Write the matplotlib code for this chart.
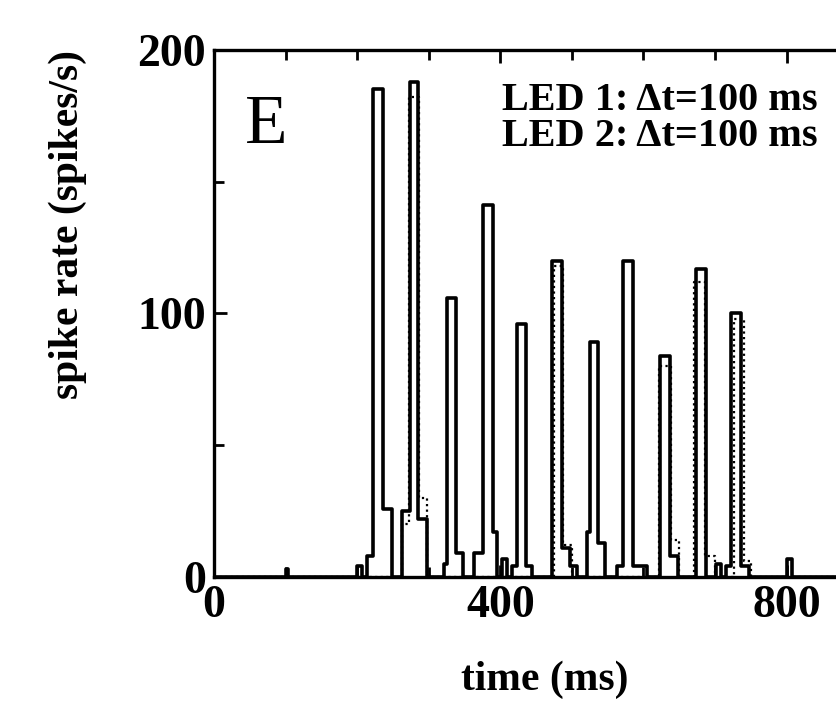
import matplotlib
matplotlib.use("Agg")
import matplotlib.pyplot as plt
from matplotlib.ticker import MultipleLocator

# PSTH, LED 1 (solid trace) - bin edges in ms and rate in spikes/s (steps-post)
led1_t = [0, 100, 104, 200, 207, 214, 222, 236, 249, 263, 274, 285, 297,
          321, 325, 338, 348, 363, 376, 390, 396, 403, 409, 416, 423, 436, 445,
          472, 486, 497, 507, 521, 525, 536, 547, 563, 571, 586, 605,
          623, 637, 648, 674, 688, 702, 709, 716, 723, 737, 748, 801, 807, 1000]
led1_r = [0, 3, 0, 4, 0, 8, 185, 26, 0, 25, 188, 22, 0,
          5, 106, 9, 0, 9, 141, 17, 0, 7, 0, 4, 96, 4, 0,
          120, 11, 4, 0, 17, 89, 13, 0, 4, 120, 4, 0,
          84, 8, 0, 117, 0, 5, 0, 4, 100, 4, 0, 7, 0, 0]

# LED 2 (dotted trace)
led2_t = [0, 262, 272, 286, 297, 470, 475, 488, 500, 620, 622, 639, 650,
          668, 671, 686, 700, 724, 727, 740, 750, 1000]
led2_r = [0, 20, 182, 30, 0, 0, 118, 12, 0, 0, 80, 14, 0,
          0, 112, 8, 0, 0, 98, 6, 0, 0]

xticks = [0, 400, 800]
yticks = [0, 100, 200]
legend_lines = ["LED 1: \u0394t=100 ms", "LED 2: \u0394t=100 ms"]

plt.rcParams['font.family'] = ['Liberation Serif', 'DejaVu Serif']
plt.rcParams['font.weight'] = 'bold'

fig = plt.figure(figsize=(8.37, 7.26), dpi=100)
ax = fig.add_axes([0.2557, 0.2052, 0.855, 0.726])

ax.plot(led1_t, led1_r, drawstyle='steps-post', color='black', lw=2.6)
ax.plot(led2_t, led2_r, drawstyle='steps-post', color='black', lw=1.6,
        linestyle=(0, (1, 1.5)))

ax.set_xlim(0, 1000)
ax.set_ylim(0, 200)
ax.set_xticks(xticks)
ax.set_yticks(yticks)
ax.xaxis.set_minor_locator(MultipleLocator(100))
ax.yaxis.set_minor_locator(MultipleLocator(50))
ax.tick_params(which='both', direction='in', top=True, right=False,
               width=2, labelsize=33)
ax.tick_params(which='major', length=9)
ax.tick_params(which='minor', length=7)
ax.tick_params(axis='x', pad=6)
ax.tick_params(axis='y', pad=6)
for s in ax.spines.values():
    s.set_linewidth(2.4)

ax.set_xlabel('time (ms)', fontsize=30, fontweight='bold')
ax.set_ylabel('spike rate (spikes/s)', fontsize=30, fontweight='bold')
ax.xaxis.set_label_coords(0.4626, -0.195)
ax.yaxis.set_label_coords(-0.204, 0.668)
ax.xaxis.label.set_va('center')
ax.yaxis.label.set_va('center')

ax.text(43, 171, 'E', fontsize=50, fontweight='normal', ha='left', va='center')
ax.text(403, 181, legend_lines[0], fontsize=29, ha='left', va='center')
ax.text(403, 167, legend_lines[1], fontsize=29, ha='left', va='center')

fig.savefig('out.png', dpi=100)
